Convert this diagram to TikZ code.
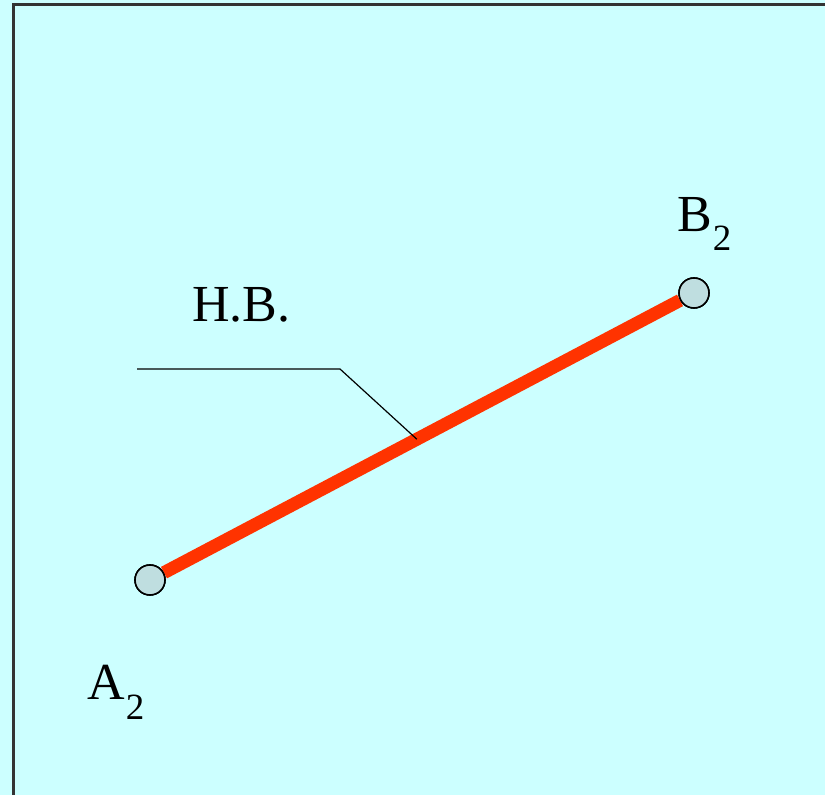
\documentclass[tikz,border=0pt]{standalone}
\usepackage{fontspec}
\setmainfont{Liberation Serif}
\usepackage{xcolor}
\usetikzlibrary{positioning}
\definecolor{paleaqua}{HTML}{CCFFFF}
\definecolor{segred}{HTML}{FF3300}
\definecolor{dotgray}{HTML}{BFDEE0}
\definecolor{framegray}{HTML}{333333}

\begin{document}
\begin{tikzpicture}[x=0.5pt, y=-0.5pt,
    endpt/.style={circle, draw=black, line width=0.8pt, fill=dotgray, minimum size=15pt, inner sep=0pt},
    lbl/.style={font=\fontsize{26}{30}\selectfont, inner sep=0pt, anchor=base west},
    sub/.style={font=\fontsize{18.5}{22}\selectfont, inner sep=0pt, anchor=base west}]
    % background and frame
    \fill[paleaqua] (0,0) rectangle (825,795);
    \useasboundingbox (0,0) rectangle (825,795);
    \draw[framegray, line width=1.5pt] (13,830) -- (13,5) -- (860,5);
    % end points
    \node[endpt] (A) at (150,580) {};
    \node[endpt] (B) at (694,293) {};
    % true-length segment
    \draw[segred, line width=6.5pt] (A) -- (B) coordinate[pos=0.49] (hit);
    \node[endpt] at (A) {};
    \node[endpt] at (B) {};
    % leader
    \coordinate (lead0) at (137,369);
    \coordinate (lead1) at (340,369);
    \draw[black, line width=0.6pt] (lead0) -- (lead1) -- (hit);
    % labels
    \node[lbl] (hv) at (192,322) {H.B.};
    \node[lbl] (Alab) at (87,700) {A};
    \node[sub, right=0pt of Alab.base east, anchor=base west, yshift=-10pt] (Asub) {2};
    \node[lbl] (Blab) at (677,232) {B};
    \node[sub, right=0pt of Blab.base east, anchor=base west, yshift=-9.5pt] (Bsub) {2};
\end{tikzpicture}
\end{document}
